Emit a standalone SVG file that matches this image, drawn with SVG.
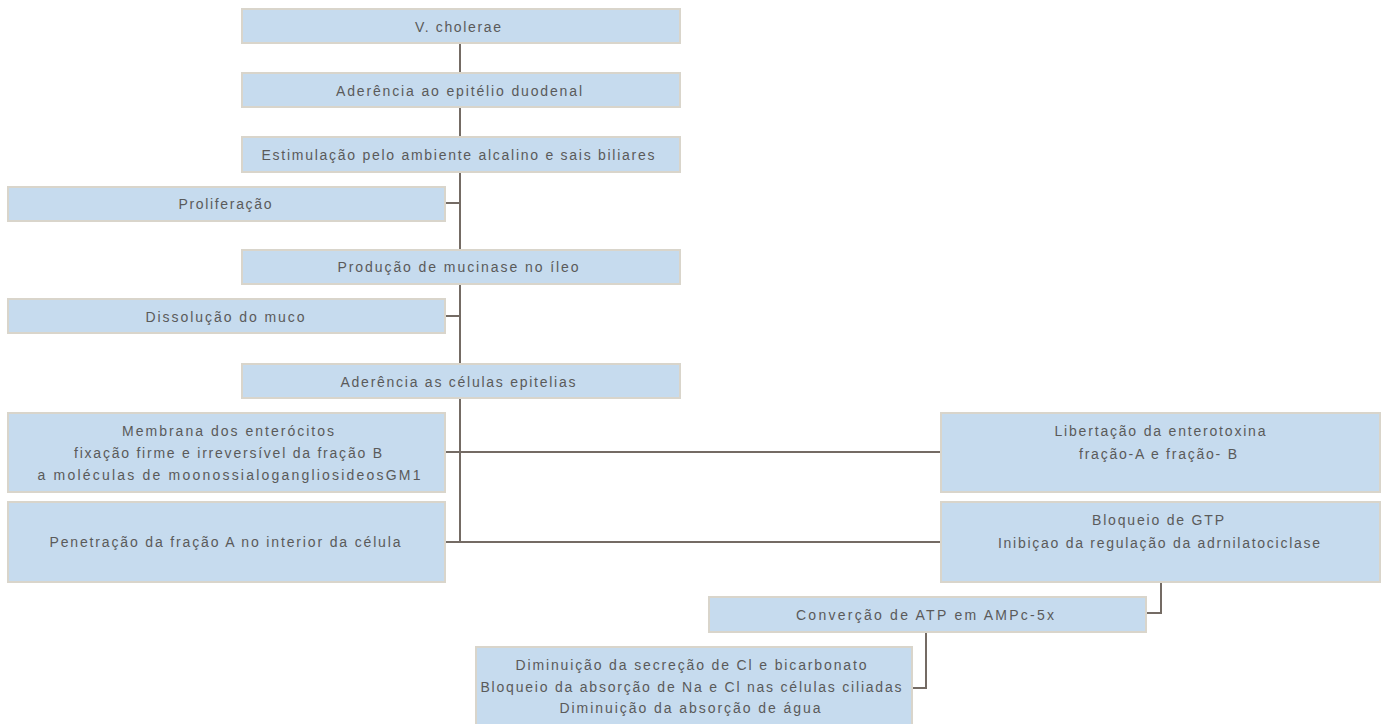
<svg xmlns="http://www.w3.org/2000/svg" width="1384" height="724" viewBox="0 0 1384 724">
<style>
.box{fill:#c6dbee;stroke:#d9d5cb;stroke-width:2}
.t{font-family:"Liberation Sans",Arial,sans-serif;font-size:14px;fill:#5a5a5a;text-anchor:middle}
.c{fill:none;stroke:#746b64;stroke-width:2}
</style>
<rect width="1384" height="724" fill="#ffffff"/>
<g id="connectors">
<path class="c" d="M460,43V542"/>
<path class="c" d="M445,203H460"/>
<path class="c" d="M445,316H460"/>
<path class="c" d="M445,452H941"/>
<path class="c" d="M445,542H941"/>
<path class="c" d="M1161,582V613H1146"/>
<path class="c" d="M926,632V688H912"/>
</g>
<g id="n1"><rect class="box" x="242" y="9" width="438" height="34"/><text class="t" x="458" y="32" textLength="86" lengthAdjust="spacing">V. cholerae</text></g>
<g id="n2"><rect class="box" x="242" y="73" width="438" height="34"/><text class="t" x="459" y="96" textLength="246" lengthAdjust="spacing">Aderência ao epitélio duodenal</text></g>
<g id="n3"><rect class="box" x="242" y="137" width="438" height="35"/><text class="t" x="458" y="160" textLength="393" lengthAdjust="spacing">Estimulação pelo ambiente alcalino e sais biliares</text></g>
<g id="n4"><rect class="box" x="8" y="187" width="437" height="34"/><text class="t" x="225" y="209" textLength="93" lengthAdjust="spacing">Proliferação</text></g>
<g id="n5"><rect class="box" x="242" y="250" width="438" height="34"/><text class="t" x="458" y="272" textLength="241" lengthAdjust="spacing">Produção de mucinase no íleo</text></g>
<g id="n6"><rect class="box" x="8" y="299" width="437" height="34"/><text class="t" x="225" y="322" textLength="159" lengthAdjust="spacing">Dissolução do muco</text></g>
<g id="n7"><rect class="box" x="242" y="364" width="438" height="34"/><text class="t" x="458" y="387" textLength="235" lengthAdjust="spacing">Aderência as células epitelias</text></g>
<g id="n8"><rect class="box" x="8" y="413" width="437" height="79"/>
<text class="t" x="228" y="436" textLength="212" lengthAdjust="spacing">Membrana dos enterócitos</text>
<text class="t" x="228" y="458" textLength="308" lengthAdjust="spacing">fixação firme e irreversível da fração B</text>
<text class="t" x="229" y="480" textLength="383" lengthAdjust="spacing">a moléculas de moonossialogangliosideosGM1</text></g>
<g id="n9"><rect class="box" x="8" y="502" width="437" height="80"/><text class="t" x="225" y="547" textLength="351" lengthAdjust="spacing">Penetração da fração A no interior da célula</text></g>
<g id="n10"><rect class="box" x="941" y="413" width="439" height="79"/>
<text class="t" x="1160" y="436" textLength="211" lengthAdjust="spacing">Libertação da enterotoxina</text>
<text class="t" x="1158" y="459" textLength="158" lengthAdjust="spacing">fração-A e fração- B</text></g>
<g id="n11"><rect class="box" x="941" y="502" width="439" height="80"/>
<text class="t" x="1158" y="525" textLength="132" lengthAdjust="spacing">Bloqueio de GTP</text>
<text class="t" x="1159" y="548" textLength="322" lengthAdjust="spacing">Inibiçao da regulação da adrnilatociclase</text></g>
<g id="n12"><rect class="box" x="709" y="597" width="437" height="35"/><text class="t" x="925" y="620" textLength="258" lengthAdjust="spacing">Converção de ATP em AMPc-5x</text></g>
<g id="n13"><rect class="box" x="476" y="647" width="436" height="82"/>
<text class="t" x="691" y="670" textLength="351" lengthAdjust="spacing">Diminuição da secreção de Cl e bicarbonato</text>
<text class="t" x="691" y="692" textLength="421" lengthAdjust="spacing">Bloqueio da absorção de Na e Cl nas células ciliadas</text>
<text class="t" x="690" y="713" textLength="261" lengthAdjust="spacing">Diminuição da absorção de água</text></g>
</svg>
